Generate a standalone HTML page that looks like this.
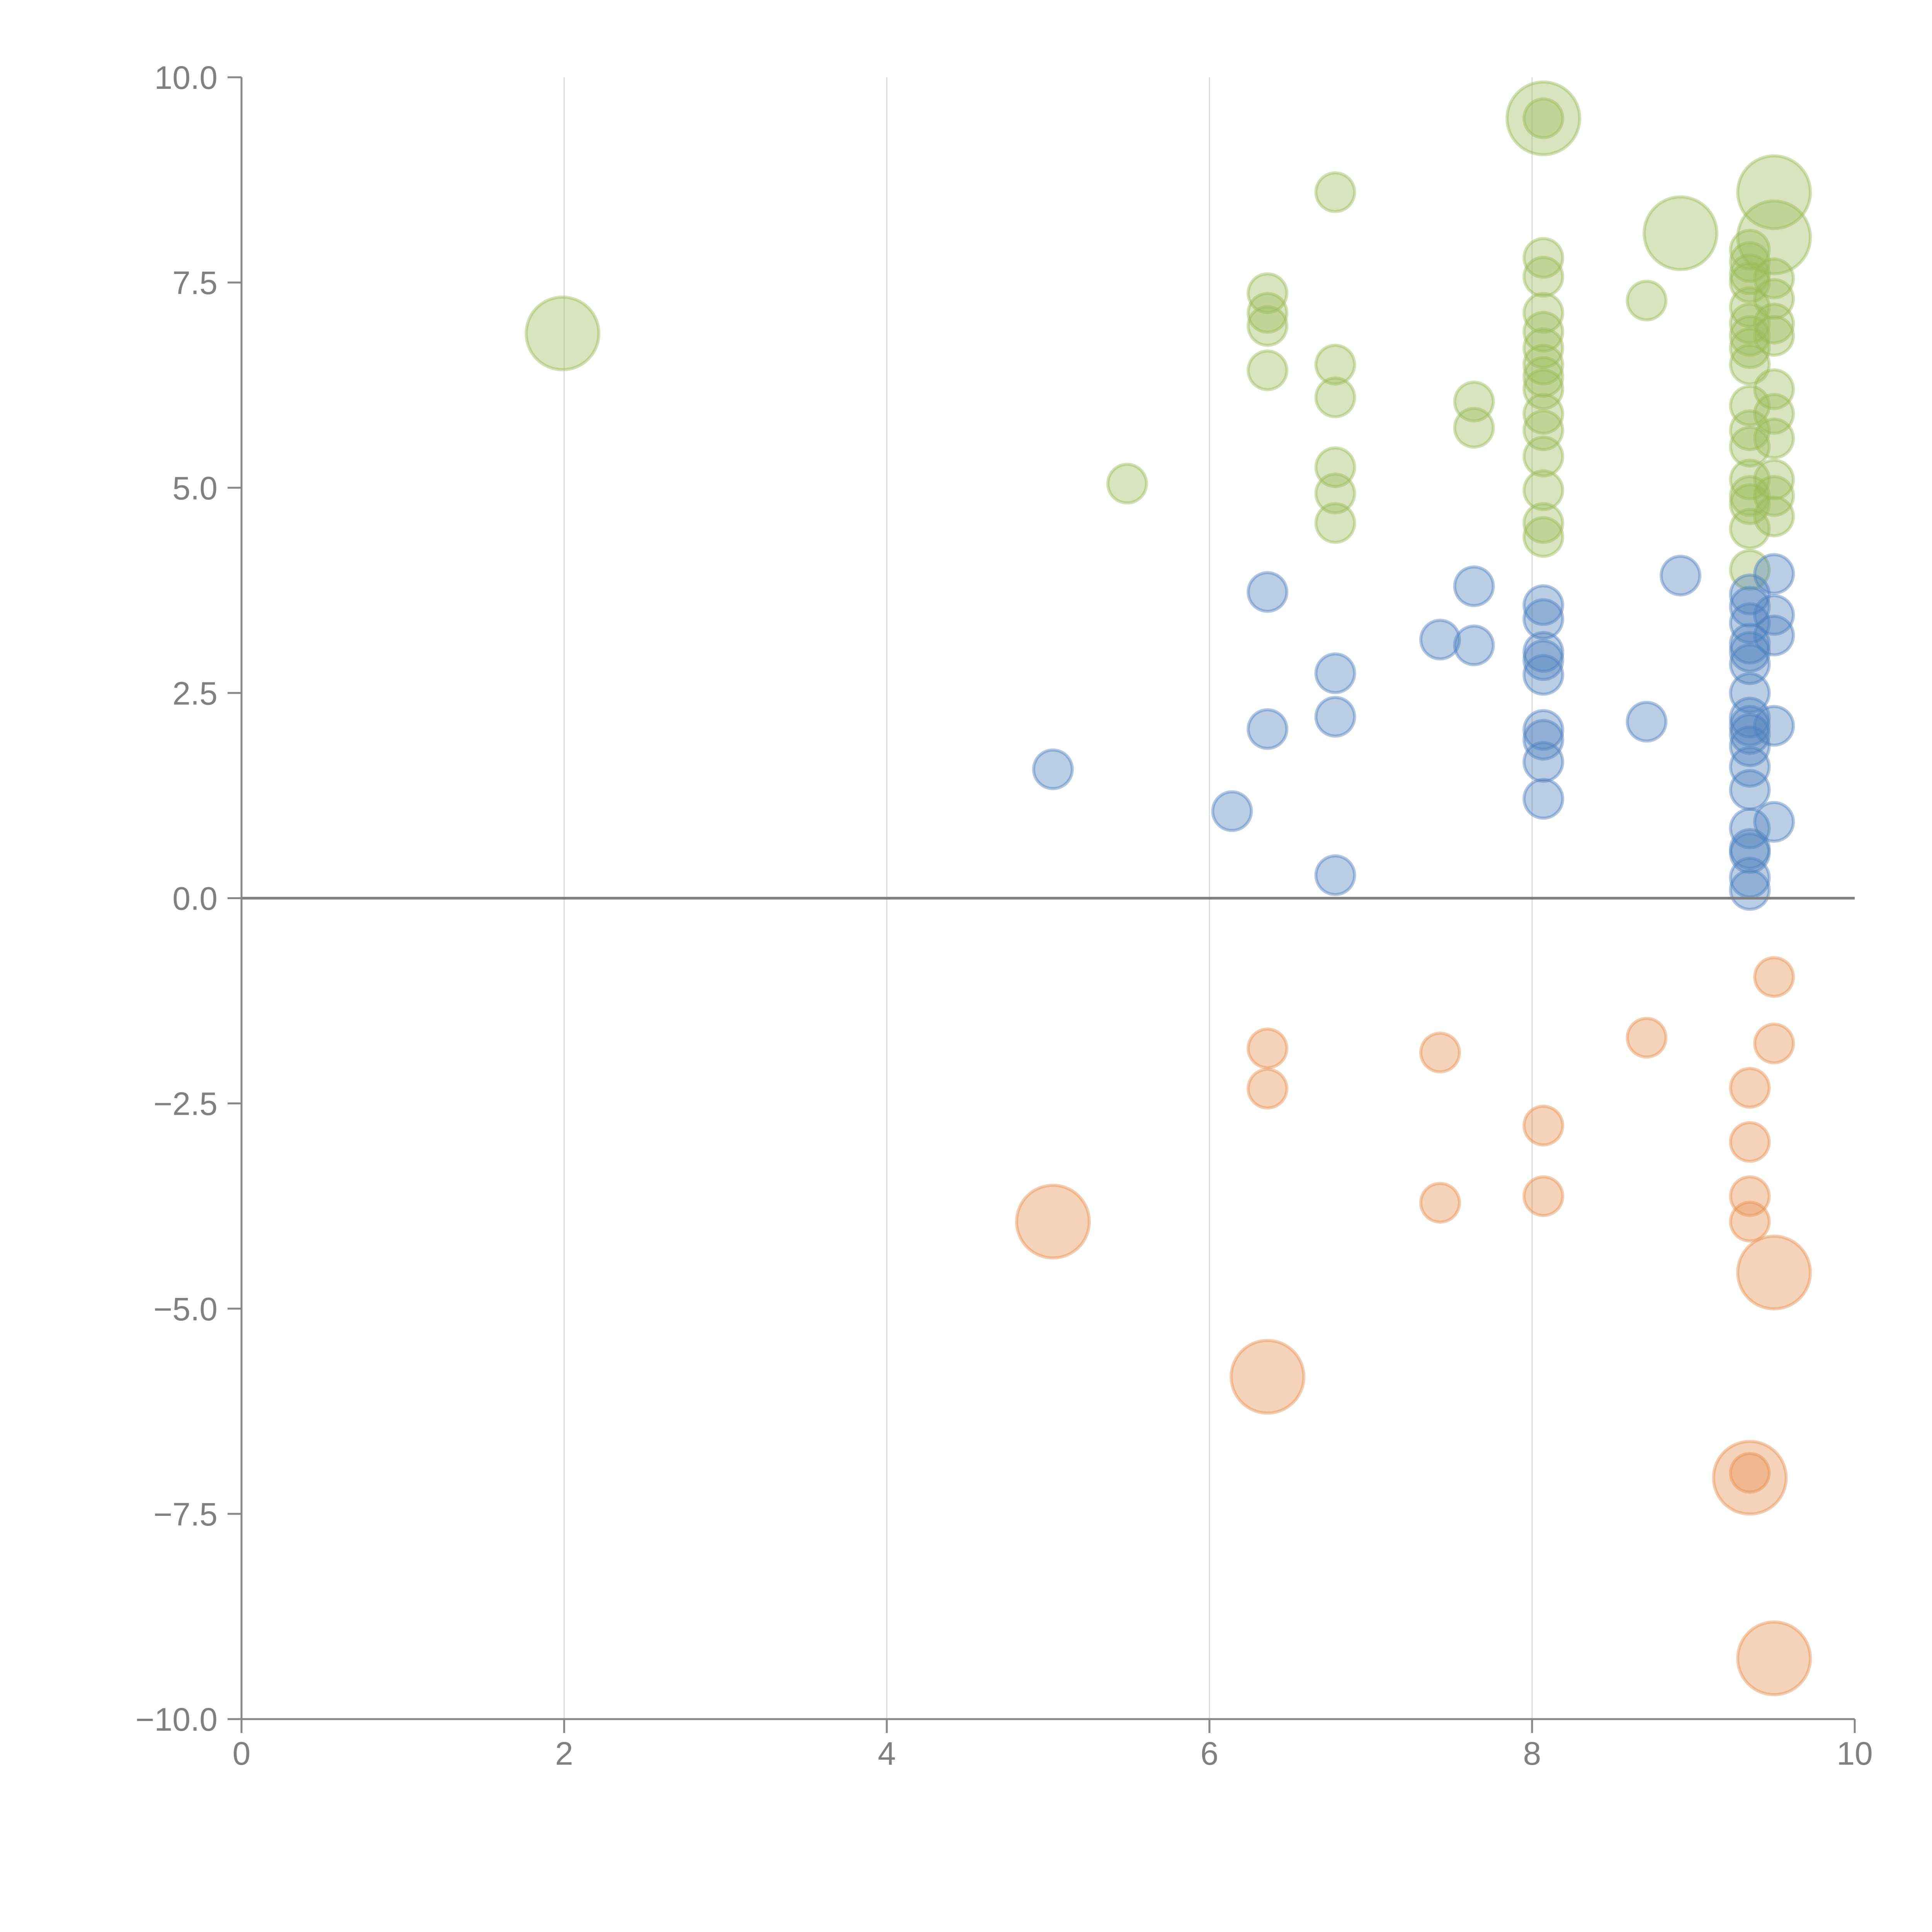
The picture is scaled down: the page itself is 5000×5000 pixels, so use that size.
<!DOCTYPE html>
<html><head><meta charset="utf-8"><style>
html,body{margin:0;padding:0;background:#fff}
svg{display:block}
text{font-family:"Liberation Sans",Arial,sans-serif;fill:#808080;font-size:84px}
</style></head><body>
<svg id="chart" width="5000" height="5000" viewBox="0 0 5000 5000" xmlns="http://www.w3.org/2000/svg">
<g id="grid"></g>
<g id="marks"></g>
<g id="axes"></g>
</svg>
<script>
const xTicks=[0,2,4,6,8,10];
const yTicks=[10,7.5,5,2.5,0,-2.5,-5,-7.5,-10];
const greenX=[1.99,5.49,6.36,6.36,6.36,6.36,6.78,6.78,6.78,6.78,6.78,6.78,7.64,7.64,8.07,8.07,8.07,8.07,8.07,8.07,8.07,8.07,8.07,8.07,8.07,8.07,8.07,8.07,8.07,8.07,8.71,8.92,9.35,9.35,9.35,9.35,9.35,9.35,9.35,9.35,9.35,9.35,9.35,9.35,9.35,9.35,9.35,9.35,9.35,9.5,9.5,9.5,9.5,9.5,9.5,9.5,9.5,9.5,9.5,9.5,9.5];
const greenY=[6.88,5.05,7.37,7.13,6.97,6.43,8.6,6.5,6.1,5.25,4.93,4.57,6.05,5.73,9.5,9.5,7.8,7.57,7.13,6.9,6.7,6.5,6.35,6.2,5.9,5.7,5.38,4.97,4.57,4.4,7.28,8.1,7.9,7.75,7.6,7.5,7.2,7.0,6.85,6.7,6.5,6.0,5.7,5.5,5.1,4.9,4.8,4.5,4.0,8.6,8.05,7.55,7.3,7.0,6.85,6.2,5.9,5.6,5.1,4.9,4.65];
const greenS=[2,1,1,1,1,1,1,1,1,1,1,1,1,1,2,1,1,1,1,1,1,1,1,1,1,1,1,1,1,1,1,2,1,1,1,1,1,1,1,1,1,1,1,1,1,1,1,1,1,2,2,1,1,1,1,1,1,1,1,1,1];
const blueX=[5.03,6.14,6.36,6.36,6.78,6.78,6.78,7.43,7.64,7.64,8.07,8.07,8.07,8.07,8.07,8.07,8.07,8.07,8.07,8.71,8.92,9.35,9.35,9.35,9.35,9.35,9.35,9.35,9.35,9.35,9.35,9.35,9.35,9.35,9.35,9.35,9.35,9.35,9.35,9.5,9.5,9.5,9.5,9.5];
const blueY=[1.57,1.06,3.73,2.06,2.74,2.21,0.28,3.15,3.8,3.08,3.57,3.4,3.0,2.9,2.72,2.05,1.93,1.66,1.21,2.15,3.93,3.7,3.55,3.35,3.1,3.0,2.85,2.5,2.2,2.1,2.0,1.85,1.6,1.32,0.85,0.6,0.55,0.25,0.1,3.95,3.45,3.2,2.1,0.93];
const orangeX=[5.03,6.36,6.36,6.36,7.43,7.43,8.07,8.07,8.71,9.35,9.35,9.35,9.35,9.35,9.35,9.5,9.5,9.5,9.5];
const orangeY=[-3.94,-1.83,-2.32,-5.83,-1.88,-3.71,-2.77,-3.63,-1.70,-2.31,-2.97,-3.63,-3.94,-7.06,-7.0,-0.96,-1.77,-4.56,-9.26];
const orangeS=[2,1,1,2,1,1,1,1,1,1,1,1,1,2,1,1,1,2,2];

const NS='http://www.w3.org/2000/svg';
const X0=625,X1=4800,Y0=4449,Y1=200;
const sx=v=>X0+(v-0)/(10-0)*(X1-X0);
const sy=v=>Y0-(v+10)/20*(Y0-Y1);
const rad=s=>s===2?94:50;
function mk(tag,attrs,parent){const e=document.createElementNS(NS,tag);for(const k in attrs)e.setAttribute(k,attrs[k]);parent.appendChild(e);return e;}
const grid=document.getElementById('grid'),marks=document.getElementById('marks'),axes=document.getElementById('axes');
xTicks.forEach(t=>{if(t>0&&t<10){const l=mk('line',{x1:sx(t),x2:sx(t),y1:Y1,y2:Y0,stroke:'#d9d9d9','stroke-width':3},grid);

}});
function series(xs,ys,ss,fill,stroke,name){xs.forEach((x,i)=>{const c=mk('circle',{cx:sx(x),cy:sy(ys[i]),r:rad(ss?ss[i]:1),fill:fill,stroke:stroke,'stroke-width':8},marks);

});}
series(greenX,greenY,greenS,'rgba(155,187,89,0.4)','rgba(155,187,89,0.45)','green-bubble');
series(blueX,blueY,null,'rgba(79,129,189,0.4)','rgba(79,129,189,0.45)','blue-bubble');
series(orangeX,orangeY,orangeS,'rgba(230,145,80,0.4)','rgba(230,145,80,0.45)','orange-bubble');
// zero line
const z=mk('line',{x1:X0,x2:X1,y1:sy(0),y2:sy(0),stroke:'#808080','stroke-width':7},axes);


const ya=mk('line',{x1:X0,x2:X0,y1:Y1,y2:Y0,stroke:'#888','stroke-width':5},axes);


const xa=mk('line',{x1:X0,x2:X1,y1:Y0,y2:Y0,stroke:'#888','stroke-width':5},axes);


xTicks.forEach(t=>{mk('line',{x1:sx(t),x2:sx(t),y1:Y0,y2:Y0+36,stroke:'#888','stroke-width':5},axes);
const tx=mk('text',{x:sx(t),y:Y0+118,'text-anchor':'middle'},axes);tx.textContent=String(t);

});
yTicks.forEach(t=>{mk('line',{x1:X0-36,x2:X0,y1:sy(t),y2:sy(t),stroke:'#888','stroke-width':5},axes);
const tx=mk('text',{x:X0-62,y:sy(t)+30,'text-anchor':'end'},axes);tx.textContent=t.toFixed(1).replace('-','\u2212');

});
</script>
</body></html>
